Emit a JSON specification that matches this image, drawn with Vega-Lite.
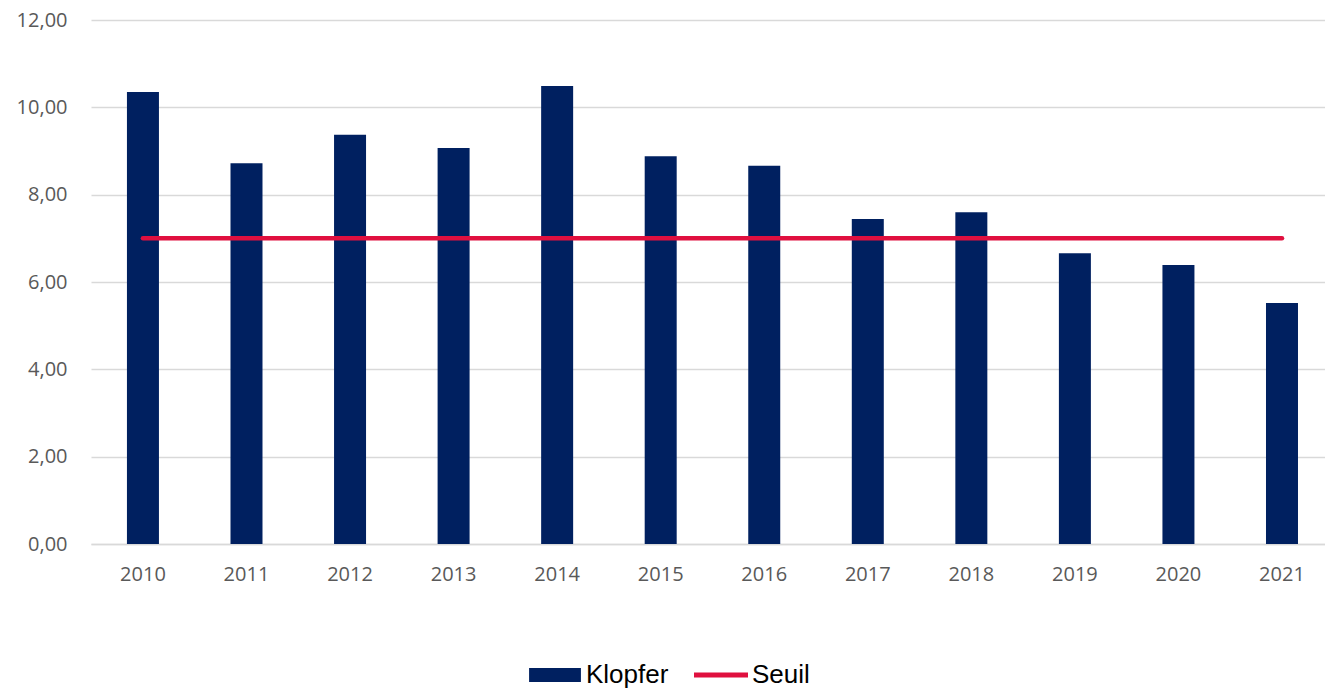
{
  "$schema": "https://vega.github.io/schema/vega-lite/v6.json",
  "autosize": {"type": "none"},
  "padding": {"left": 91, "top": 20, "right": 0, "bottom": 145},
  "width": 1234,
  "height": 524,
  "background": "white",
  "data": {
    "values": [
      {"year": "2010", "klopfer": 10.35, "seuil": 7},
      {"year": "2011", "klopfer": 8.72, "seuil": 7},
      {"year": "2012", "klopfer": 9.37, "seuil": 7},
      {"year": "2013", "klopfer": 9.07, "seuil": 7},
      {"year": "2014", "klopfer": 10.49, "seuil": 7},
      {"year": "2015", "klopfer": 8.88, "seuil": 7},
      {"year": "2016", "klopfer": 8.66, "seuil": 7},
      {"year": "2017", "klopfer": 7.44, "seuil": 7},
      {"year": "2018", "klopfer": 7.60, "seuil": 7},
      {"year": "2019", "klopfer": 6.66, "seuil": 7},
      {"year": "2020", "klopfer": 6.39, "seuil": 7},
      {"year": "2021", "klopfer": 5.52, "seuil": 7}
    ]
  },
  "config": {
    "view": {"stroke": null},
    "axis": {
      "labelFont": "Open Sans",
      "labelFontSize": 20,
      "labelColor": "#595959",
      "ticks": false,
      "title": null
    },
    "legend": {
      "labelFont": "Liberation Sans",
      "labelFontSize": 26,
      "labelColor": "#000000",
      "symbolSize": 2916,
      "columnPadding": 25,
      "labelOffset": 4,
      "padding": 0,
      "symbolStrokeWidth": 0
    }
  },
  "encoding": {
    "x": {
      "field": "year",
      "type": "nominal",
      "sort": null,
      "scale": {"paddingInner": 0.691, "paddingOuter": 0.304, "align": 0.571},
      "axis": {
        "labelAngle": 0,
        "labelPadding": 20,
        "domainColor": "#d9d9d9",
        "domainWidth": 1.5,
        "grid": false
      }
    }
  },
  "layer": [
    {
      "mark": {"type": "bar"},
      "encoding": {
        "y": {
          "field": "klopfer",
          "type": "quantitative",
          "scale": {"domain": [0, 12], "nice": false},
          "axis": {
            "values": [0, 2, 4, 6, 8, 10, 12],
            "labelExpr": "replace(format(datum.value, '.2f'), '.', ',')",
            "labelPadding": 24,
            "domain": false,
            "gridColor": "#d9d9d9",
            "gridWidth": 1.5
          }
        },
        "color": {
          "datum": "Klopfer",
          "type": "nominal",
          "scale": {"domain": ["Klopfer", "Seuil"], "range": ["#002060", "#E0103F"]},
          "legend": {
            "title": null,
            "orient": "none",
            "direction": "horizontal",
            "legendX": 437,
            "legendY": 628,
            "encode": {
              "symbols": {
                "update": {
                  "shape": {"signal": "datum.value === 'Klopfer' ? 'M-0.96,-0.26L0.96,-0.26L0.96,0.26L-0.96,0.26Z' : 'M-1,-0.09L1,-0.09L1,0.09L-1,0.09Z'"},
                  "fill": {"signal": "datum.value === 'Klopfer' ? '#002060' : '#E0103F'"},
                  "stroke": {"value": "transparent"},
                  "opacity": {"value": 1},
                  "fillOpacity": {"value": 1}
                }
              }
            }
          }
        }
      }
    },
    {
      "mark": {"type": "line", "strokeWidth": 4.5, "strokeCap": "round"},
      "encoding": {
        "y": {"field": "seuil", "type": "quantitative"},
        "color": {"datum": "Seuil", "type": "nominal"}
      }
    }
  ]
}
